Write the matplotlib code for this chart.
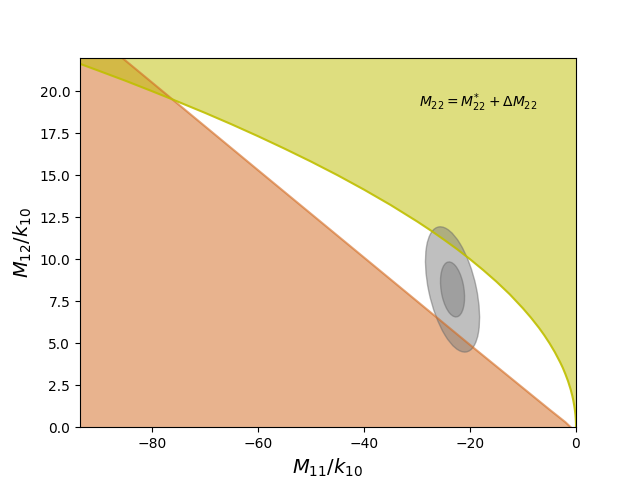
import numpy as np
import matplotlib.pyplot as plt
from matplotlib.patches import Ellipse

curve_x = [-93.6, -90, -85, -80, -77, -73, -70, -65, -60, -55, -50, -45, -40, -35, -30, -27.5,
           -25, -22.5, -20, -17.5, -15, -12.5, -10, -8.5, -7, -6, -5, -4, -3, -2.5, -2, -1.5,
           -1, -0.7, -0.5, -0.3, -0.2, -0.1, -0.05, -0.01, 0]
curve_y = [21.63, 21.21, 20.62, 20.0, 19.62, 19.1, 18.71, 18.03, 17.32, 16.58, 15.81, 15.0,
           14.14, 13.23, 12.25, 11.73, 11.18, 10.61, 10.0, 9.35, 8.66, 7.91, 7.07, 6.52,
           5.92, 5.48, 5.0, 4.47, 3.87, 3.54, 3.16, 2.74, 2.24, 1.87, 1.58, 1.22, 1.0, 0.71,
           0.5, 0.22, 0]

line_x = [-93.6, -85.7, -60, -40, -20, -5, -2, -1]
line_y = [24.1, 22.0, 15.3, 10.1, 4.9, 1.05, 0.3, 0.0]

# ellipses: centre, width, height, angle (data coords)
ell_center = (-23.3, 8.2)
ell_outer = (11.05, 6.14, -27.4)
ell_inner = (4.71, 3.02, -20.3)

fig, ax = plt.subplots()

ax.fill_between(line_x, 0, line_y, color='chocolate', alpha=0.5, lw=0)
ax.plot(line_x, line_y, color='chocolate', alpha=0.6, lw=1.5)

ax.fill_between(curve_x, curve_y, 30, color='y', alpha=0.5, lw=0)
ax.plot(curve_x, curve_y, color='y', alpha=0.9, lw=1.5)

for w, h, a in [ell_outer, ell_inner]:
    e = Ellipse(ell_center, w, h, angle=a, facecolor='gray', edgecolor='dimgray',
                alpha=0.5, lw=1)
    ax.add_patch(e)

ax.text(-29.7, 19.3, r'$M_{22} = M_{22}^{*} + \Delta M_{22}$', fontsize=10, va='center')

ax.set_xlim(-93.6, 0)
ax.set_ylim(0, 22)
ax.set_xlabel(r'$M_{11}/k_{10}$', fontsize=14)
ax.set_ylabel(r'$M_{12}/k_{10}$', fontsize=14)

plt.savefig('out.png')
